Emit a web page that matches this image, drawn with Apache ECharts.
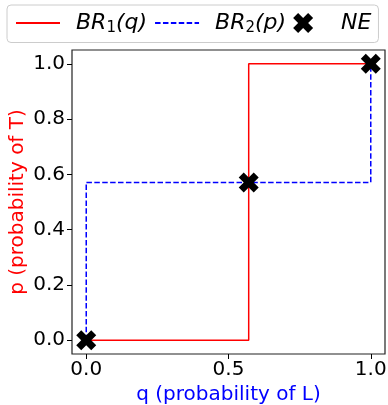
<!DOCTYPE html>
<html><head><meta charset="utf-8">
<script src="https://cdn.jsdelivr.net/npm/echarts@6/dist/echarts.min.js"></script>
<style>html,body{margin:0;padding:0;background:#fff}#c{width:388px;height:405px}</style>
</head><body><div id="c"></div>
<script>
// Data
const br1Q = [0, 0.571, 0.571, 1];
const br1P = [0, 0, 1, 1];
const br2Q = [0, 0, 1, 1];
const br2P = [0, 0.571, 0.571, 1];
const neQ = [0, 0.571, 1];
const neP = [0, 0.571, 1];
const xTicks = [0, 0.5, 1];
const yTicks = [0, 0.2, 0.4, 0.6, 0.8, 1];
const names = ['BR₁(q)', 'BR₂(p)', 'NE'];
const legendRich = {
  'BR₁(q)': '{i|BR}{s|1}{i|(q)}',
  'BR₂(p)': '{i|BR}{s|2}{i|(p)}',
  'NE': '{i|NE}'
};

const zip = (a, b) => a.map((v, i) => [v, b[i]]);
const xPath = 'path://M0,2.5 L2.5,0 L5,2.5 L7.5,0 L10,2.5 L7.5,5 L10,7.5 L7.5,10 L5,7.5 L2.5,10 L0,7.5 L2.5,5 Z';
const font = 'DejaVu Sans';

const chart = echarts.init(document.getElementById('c'), null, {renderer: 'canvas'});
chart.setOption({
  animation: false,
  grid: {left: 72, top: 50, right: 3, bottom: 51, show: true, borderColor: '#222', borderWidth: 1.2,
         backgroundColor: 'transparent', containLabel: false, outerBoundsMode: 'none'},
  legend: {
    left: 7, top: 5, padding: [7, 7, 7, 8],
    borderColor: '#ccc', borderWidth: 1, borderRadius: 4, backgroundColor: '#fff',
    itemWidth: 44, itemHeight: 20, itemGap: 7,
    formatter: n => legendRich[n],
    textStyle: {
      fontFamily: font, fontSize: 22, color: '#000', padding: [0, 0, 0, 11],
      rich: {
        i: {fontFamily: font, fontStyle: 'italic', fontSize: 22, color: '#000'},
        s: {fontFamily: font, fontSize: 15, color: '#000', padding: [10, 0, 0, 0]}
      }
    },
    data: [
      {name: names[0], itemStyle: {opacity: 0}},
      {name: names[1], itemStyle: {opacity: 0}},
      {name: names[2], icon: xPath, itemStyle: {color: '#000', opacity: 1}}
    ]
  },
  xAxis: {
    type: 'value', min: -0.05, max: 1.05,
    name: 'q (probability of L)', nameLocation: 'middle', nameGap: 31, nameMoveOverlap: false,
    nameTextStyle: {color: '#0000ff', fontSize: 20, fontFamily: font},
    axisLine: {show: false, onZero: false},
    axisTick: {show: true, length: 5, lineStyle: {color: '#000'}, customValues: xTicks},
    axisLabel: {fontSize: 20, fontFamily: font, color: '#000', margin: 6, customValues: xTicks, formatter: v => v.toFixed(1)},
    splitLine: {show: false}
  },
  yAxis: {
    type: 'value', min: -0.05, max: 1.05,
    name: 'p (probability of T)', nameLocation: 'middle', nameGap: 44, nameMoveOverlap: false,
    nameTextStyle: {color: '#ff0000', fontSize: 20, fontFamily: font},
    axisLine: {show: false, onZero: false},
    axisTick: {show: true, length: 5, lineStyle: {color: '#000'}, customValues: yTicks},
    axisLabel: {fontSize: 20, fontFamily: font, color: '#000', margin: 7, customValues: yTicks, formatter: v => v.toFixed(1)},
    splitLine: {show: false}
  },
  series: [
    {name: names[0], type: 'line', data: zip(br1Q, br1P), symbol: 'none', color: '#ff0000',
     lineStyle: {color: '#ff0000', width: 1.5}, z: 2},
    {name: names[1], type: 'line', data: zip(br2Q, br2P), symbol: 'none', color: '#0000ff',
     lineStyle: {color: '#0000ff', width: 1.5, type: [5.5, 2.4]}, z: 3},
    {name: names[2], type: 'scatter', data: zip(neQ, neP), symbol: xPath, symbolSize: 20,
     itemStyle: {color: '#000', opacity: 1}, z: 5}
  ]
});
</script></body></html>
